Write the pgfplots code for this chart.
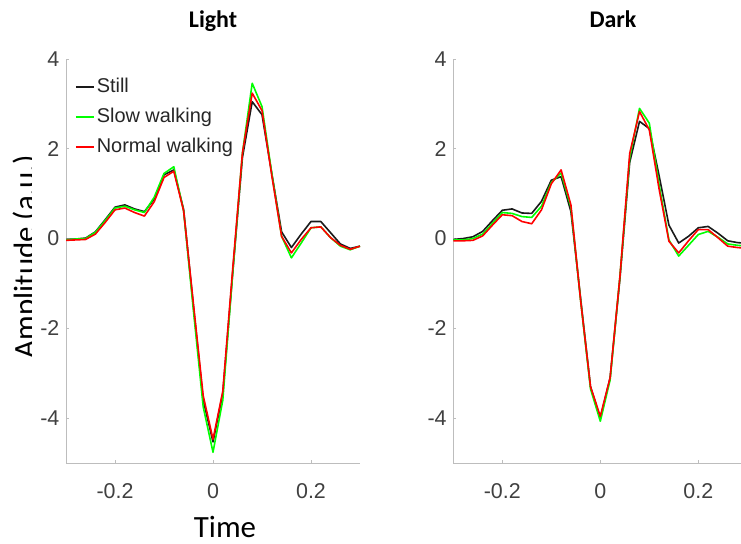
\documentclass[border=0pt]{standalone}
\usepackage{pgfplots}
\pgfplotsset{compat=1.18}
\usepackage{pgfplotstable}
\usepackage{fontspec}
\setmainfont{Carlito}
\newfontfamily\arialf{Liberation Sans}

\definecolor{tickgray}{HTML}{404040}
\definecolor{axisgray}{HTML}{BDBDBD}
\definecolor{legtext}{HTML}{262626}
\definecolor{stillc}{HTML}{1A1A1A}
\definecolor{slowc}{HTML}{00FF00}
\definecolor{normc}{HTML}{FF0000}

% Averaged waveforms, light condition
\pgfplotstableread{
t still slow normal
-0.30 -0.02 -0.03 -0.04
-0.28 -0.01 -0.01 -0.03
-0.26 0.01 0.00 -0.02
-0.24 0.15 0.14 0.10
-0.22 0.42 0.40 0.36
-0.20 0.70 0.68 0.64
-0.18 0.75 0.72 0.68
-0.16 0.66 0.64 0.58
-0.14 0.60 0.58 0.50
-0.12 0.88 0.92 0.82
-0.10 1.42 1.45 1.36
-0.08 1.53 1.60 1.50
-0.06 0.65 0.62 0.62
-0.04 -1.50 -1.60 -1.45
-0.02 -3.60 -3.75 -3.50
0.00 -4.53 -4.76 -4.47
0.02 -3.45 -3.60 -3.40
0.04 -0.80 -0.80 -0.70
0.06 1.80 1.90 1.90
0.08 3.05 3.46 3.24
0.10 2.76 2.94 2.85
0.12 1.45 1.45 1.40
0.14 0.15 0.05 0.05
0.16 -0.20 -0.43 -0.32
0.18 0.10 -0.10 -0.02
0.20 0.38 0.24 0.24
0.22 0.38 0.26 0.26
0.24 0.13 0.02 0.02
0.26 -0.12 -0.17 -0.15
0.28 -0.22 -0.25 -0.24
0.30 -0.17 -0.17 -0.17
}\lighttable

% Averaged waveforms, dark condition
\pgfplotstableread{
t still slow normal
-0.30 -0.02 -0.03 -0.05
-0.28 0.00 -0.03 -0.05
-0.26 0.04 0.00 -0.04
-0.24 0.16 0.10 0.06
-0.22 0.40 0.34 0.30
-0.20 0.63 0.58 0.53
-0.18 0.66 0.56 0.51
-0.16 0.57 0.49 0.38
-0.14 0.56 0.47 0.33
-0.12 0.83 0.72 0.64
-0.10 1.30 1.25 1.22
-0.08 1.38 1.46 1.53
-0.06 0.60 0.70 0.75
-0.04 -1.35 -1.40 -1.40
-0.02 -3.30 -3.35 -3.30
0.00 -4.00 -4.07 -3.96
0.02 -3.10 -3.15 -3.10
0.04 -0.90 -0.85 -0.85
0.06 1.70 1.80 1.90
0.08 2.61 2.90 2.83
0.10 2.45 2.57 2.42
0.12 1.40 1.20 1.10
0.14 0.30 -0.03 -0.06
0.16 -0.10 -0.39 -0.32
0.18 0.05 -0.15 -0.05
0.20 0.24 0.09 0.20
0.22 0.27 0.16 0.20
0.24 0.12 0.03 0.02
0.26 -0.05 -0.12 -0.17
0.28 -0.09 -0.15 -0.20
0.30 -0.11 -0.17 -0.22
}\darktable

\pgfplotsset{
  erp/.style={
    scale only axis,
    height=404bp,
    xmin=-0.3, ymin=-5, ymax=4,
    axis x line*=bottom, axis y line*=left,
    axis line style={draw=axisgray, line width=0.8bp},
    tick align=inside,
    major tick length=3bp,
    tick style={draw=axisgray, line width=0.6bp},
    xtick={-0.2,0,0.2}, xticklabels={-0.2,0,0.2},
    ytick={-4,-2,0,2,4}, yticklabels={-4,-2,0,2,4},
    tick label style={font=\arialf\fontsize{21.5}{24}\selectfont, text=tickgray},
    xticklabel style={anchor=north, inner sep=0pt, yshift=-20bp},
    yticklabel style={anchor=east, inner sep=0pt, xshift=-6.5bp},
    every axis plot/.append style={line width=1.6bp, mark=none, line join=round},
  },
}

\begin{document}
\begin{tikzpicture}
\useasboundingbox (0bp,0bp) rectangle (741bp,544bp);

% Light
\begin{axis}[erp, at={(66bp,81bp)}, anchor=south west, width=294bp, xmax=0.3,
  legend style={draw=none, fill=none, at={(0.0306,0.953)}, anchor=north west,
    inner sep=0pt, row sep=12bp, column sep=2bp,
    font=\arialf\fontsize{20}{22}\selectfont, text=legtext,
    nodes={inner sep=0pt, text height=14bp, text depth=4bp}},
  legend cell align=left,
  legend image code/.code={\draw[#1] (0bp,0bp) -- (18bp,0bp);},
]
\addplot[stillc] table[x=t, y=still] {\lighttable};
\addplot[slowc] table[x=t, y=slow] {\lighttable};
\addplot[normc] table[x=t, y=normal] {\lighttable};
\legend{Still, Slow walking, Normal walking}
\end{axis}

% Dark
\begin{axis}[erp, at={(453.3bp,81bp)}, anchor=south west, width=287.7bp, xmax=0.2871]
\addplot[stillc] table[x=t, y=still] {\darktable};
\addplot[slowc] table[x=t, y=slow] {\darktable};
\addplot[normc] table[x=t, y=normal] {\darktable};
\end{axis}

% Panel titles and shared axis labels
\node[anchor=base, font=\bfseries\fontsize{24}{28}\selectfont] at (213bp,516bp) {Light};
\node[anchor=base, font=\bfseries\fontsize{24}{28}\selectfont] at (613bp,516bp) {Dark};
\node[anchor=base, font=\fontsize{31}{36}\selectfont] at (225bp,7bp) {Time};
% the y label is masked along its baseline by the tick-label column
\begin{scope}
  \clip (0bp,0bp) rectangle (31bp,544bp);
  \node[rotate=90, anchor=base, font=\fontsize{31}{36}\selectfont] at (35bp,287.5bp) {Amplitude (a.u.)};
\end{scope}
\end{tikzpicture}
\end{document}
